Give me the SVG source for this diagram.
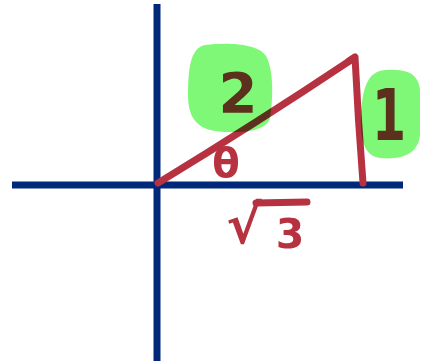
<svg xmlns="http://www.w3.org/2000/svg" width="421" height="363" viewBox="0 0 421 363">
<style>
.axis{stroke:#00287a;stroke-width:7;fill:none}
.pen{stroke:#b73240;stroke-width:7;fill:none;stroke-linecap:round;stroke-linejoin:round}
.lbl{font-family:"DejaVu Sans",sans-serif;font-weight:bold;fill:#b73240;text-anchor:middle}
.hl{fill:#7ff878;mix-blend-mode:multiply}
</style>
<rect width="421" height="363" fill="#ffffff"/>
<g id="axes">
<line class="axis" x1="157" y1="4" x2="157" y2="361"/>
<line class="axis" x1="12" y1="185" x2="403" y2="185"/>
</g>
<g id="connectors">
<path class="pen" d="M158,183 Q255,124 354,58"/>
<path class="pen" d="M349,61 L355,57 Q358,120 363,183"/>
</g>
<g id="theta">
<text class="lbl" x="226" y="177" font-size="40">θ</text>
</g>
<g id="sqrt3">
<text class="lbl" x="244" y="243" font-size="53">√</text>
<line class="pen" x1="256" y1="203" x2="307" y2="202" stroke-width="6"/>
<text class="lbl" x="290" y="248" font-size="41">3</text>
</g>
<g id="label2">
<text class="lbl" x="238" y="112" font-size="56">2</text>
<path class="hl" d="M205,45 C230,42 258,44 266,56 C274,70 273,100 270,118 C266,132 240,134 215,131 C195,128 188,115 188,95 C188,70 190,48 205,45 Z"/>
</g>
<g id="label1">
<text class="lbl" x="389" y="140" font-size="72" transform="translate(389 0) scale(0.68 1) translate(-389 0)">1</text>
<path class="hl" d="M385,70 C405,69 418,72 420,90 L420,135 C418,155 400,160 380,158 C364,156 360,140 361,115 C362,90 367,71 385,70 Z"/>
</g>
</svg>
